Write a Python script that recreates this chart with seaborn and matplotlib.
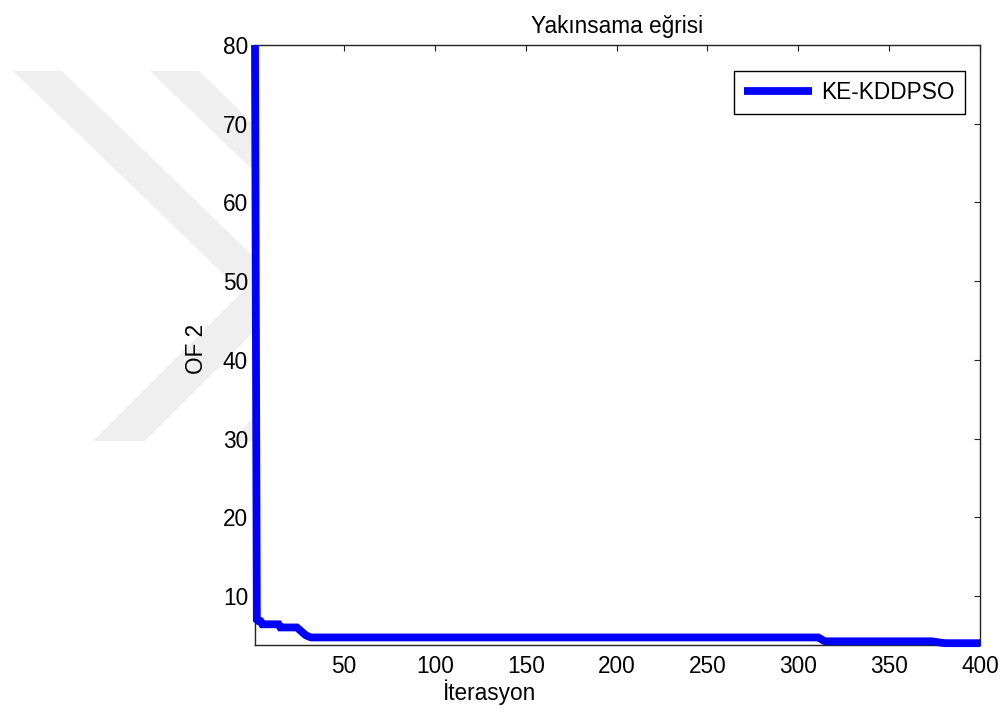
import numpy as np
import pandas as pd
import seaborn as sns
import matplotlib
matplotlib.use("Agg")
import matplotlib.pyplot as plt
from matplotlib.patches import Polygon

# ---- data (run-length encoded plateaus) ----
plateau_values = [80.0, 7.0, 6.8, 6.4, 6.0,
                  5.8, 5.6, 5.4, 5.2, 5.0, 4.9, 4.8,
                  4.73,
                  4.6, 4.45, 4.3,
                  4.24,
                  4.22, 4.19, 4.15, 4.11, 4.08, 4.05, 4.02,
                  4.0]
plateau_lengths = [1, 1, 2, 10, 10,
                   1, 1, 1, 1, 1, 1, 1,
                   280,
                   1, 1, 1,
                   59,
                   1, 1, 1, 1, 1, 1, 1,
                   20]
series_name = "KE-KDDPSO"
title_text = "Yakınsama eğrisi"
xlabel_text = "İterasyon"
ylabel_text = "OF 2"
xticks = [50, 100, 150, 200, 250, 300, 350, 400]
yticks = [10, 20, 30, 40, 50, 60, 70, 80]

of2 = np.repeat(plateau_values, plateau_lengths)
iterations = np.arange(1, len(of2) + 1)
df = pd.DataFrame({"iter": iterations, "of2": of2})

# ---- style ----
sns.set_style("white")
plt.rcParams["font.family"] = ["Liberation Sans", "DejaVu Sans"]
FS = 16.3
plt.rcParams["font.size"] = FS
plt.rcParams["text.color"] = "black"
plt.rcParams["axes.labelcolor"] = "black"
plt.rcParams["axes.titlecolor"] = "black"

W, H = 1002, 713
fig = plt.figure(figsize=(W / 100, H / 100), dpi=100)
fig.patch.set_facecolor("white")

# background watermark (decorative chevrons, pixel coords from top-left)
chev = [(13, 71), (62, 71), (292, 294), (145, 441), (93, 441), (242, 292)]
for dx in (0, 137):
    pts = [((x + dx) / W, 1 - y / H) for x, y in chev]
    fig.patches.append(Polygon(pts, closed=True, transform=fig.transFigure,
                               facecolor="#efefef", edgecolor="none", zorder=-5))

ax = fig.add_axes([255 / W, (H - 645) / H, 725 / W, 600 / H])
ax.set_facecolor("white")
ax.set_zorder(1)

sns.lineplot(data=df, x="iter", y="of2", ax=ax, color="#0000ff",
             linewidth=5.6, label=series_name, clip_on=False, zorder=3)
for ln in ax.lines:
    ln.set_solid_capstyle("butt")
    ln.set_solid_joinstyle("miter")

ax.set_xlim(1, 400)
ax.set_ylim(3.77, 80)
ax.set_xticks(xticks)
ax.set_yticks(yticks)
ax.tick_params(direction="in", top=True, right=True, length=4, width=0.8,
               color="#222222", labelsize=FS, labelcolor="black")
ax.tick_params(axis="x", pad=7)
ax.tick_params(axis="y", pad=5)
for s in ax.spines.values():
    s.set_visible(True)
    s.set_color("#222222")
    s.set_linewidth(1.0)

ax.set_title(title_text, fontsize=FS, pad=9, color="black")
ax.set_xlabel(xlabel_text, fontsize=FS, color="black")
ax.set_ylabel(ylabel_text, fontsize=FS, color="black")
ax.xaxis.set_label_coords(0.324, -0.058)
ax.yaxis.set_label_coords(-0.0655, 0.494)

leg = ax.legend(loc="upper right", bbox_to_anchor=(0.979, 0.957),
                borderaxespad=0, fancybox=False, frameon=True,
                edgecolor="black", handlelength=3.0, fontsize=FS,
                borderpad=0.45, handletextpad=0.4)
leg.get_frame().set_linewidth(1.0)
leg.get_frame().set_alpha(1)
for t in leg.get_texts():
    t.set_color("black")
for h in leg.get_lines():
    h.set_solid_capstyle("butt")
    h.set_linewidth(5.6)

fig.savefig("out.png", dpi=100)
